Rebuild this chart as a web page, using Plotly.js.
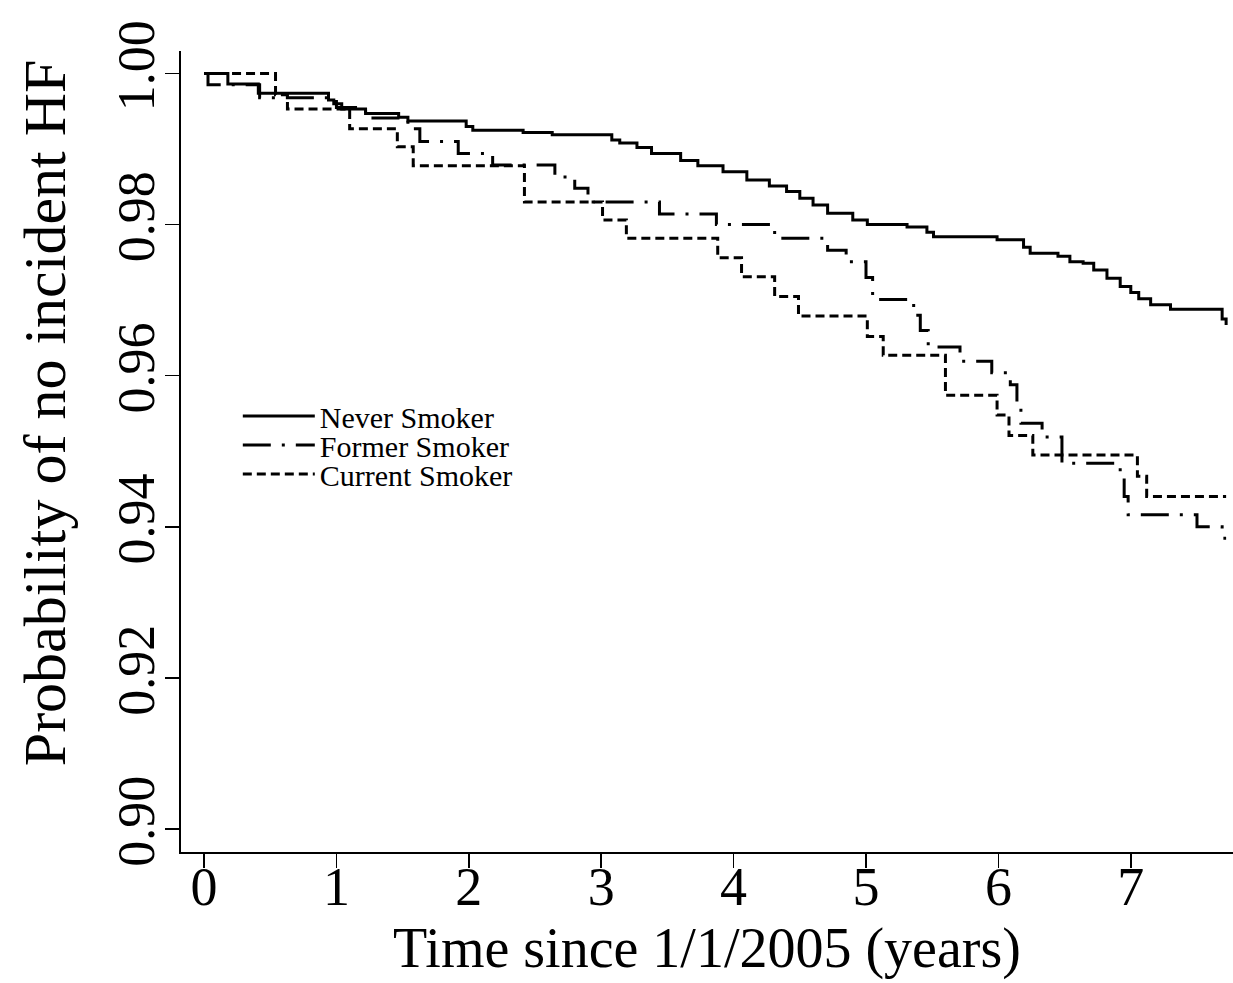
<!DOCTYPE html>
<html>
<head>
<meta charset="utf-8">
<script src="https://cdn.plot.ly/plotly-3.0.1.min.js"></script>
<style>html,body{margin:0;padding:0;background:#fff;}#chart{width:1233px;height:983px;}</style>
</head>
<body>
<div id="chart"></div>
<script>
// Kaplan-Meier style survival (probability of no incident HF) by smoking status
const seriesNames = ["Never Smoker", "Former Smoker", "Current Smoker"];

const neverT = [0, 0.18, 0.41, 0.94, 0.98, 1.04, 1.22, 1.47, 1.54, 1.98, 2.03, 2.41, 2.63, 3.08, 3.14, 3.27, 3.38, 3.60, 3.73, 3.92, 4.10, 4.27, 4.40, 4.50, 4.60, 4.71, 4.90, 5.01, 5.31, 5.46, 5.51, 5.99, 6.19, 6.24, 6.45, 6.54, 6.64, 6.72, 6.82, 6.92, 7.00, 7.06, 7.15, 7.30, 7.69, 7.72];
const neverS = [1.000, 0.9986, 0.9974, 0.9965, 0.9960, 0.9953, 0.9947, 0.9942, 0.9937, 0.9930, 0.9925, 0.9922, 0.9919, 0.9912, 0.9908, 0.9902, 0.9894, 0.9885, 0.9878, 0.9870, 0.9859, 0.9851, 0.9844, 0.9835, 0.9826, 0.9815, 0.9806, 0.9800, 0.9797, 0.9790, 0.9784, 0.9780, 0.9770, 0.9762, 0.9758, 0.9751, 0.9749, 0.9740, 0.9729, 0.9718, 0.9710, 0.9702, 0.9694, 0.9688, 0.9675, 0.9667];

const formerT = [0, 0.03, 0.42, 1.00, 1.22, 1.54, 1.63, 1.92, 2.18, 2.65, 2.80, 2.90, 3.44, 3.87, 4.31, 4.71, 4.85, 5.00, 5.05, 5.36, 5.41, 5.47, 5.71, 5.95, 6.09, 6.14, 6.17, 6.33, 6.48, 6.92, 6.95, 6.98, 7.50, 7.69, 7.72];
const formerS = [1.000, 0.9985, 0.9968, 0.9955, 0.9941, 0.9927, 0.9910, 0.9894, 0.9879, 0.9863, 0.9848, 0.9830, 0.9814, 0.9800, 0.9782, 0.9766, 0.9751, 0.9730, 0.9701, 0.9680, 0.9660, 0.9638, 0.9619, 0.9604, 0.9588, 0.9560, 0.9537, 0.9519, 0.9484, 0.9470, 0.9440, 0.9416, 0.9400, 0.9385, 0.9385];

const currentT = [0, 0.54, 0.63, 1.10, 1.46, 1.58, 2.42, 3.01, 3.19, 3.88, 4.06, 4.31, 4.49, 5.01, 5.13, 5.60, 5.99, 6.08, 6.26, 7.05, 7.12, 7.72];
const currentS = [1.000, 0.9972, 0.9953, 0.9927, 0.9903, 0.9878, 0.9830, 0.9806, 0.9782, 0.9756, 0.9731, 0.9705, 0.9679, 0.9652, 0.9627, 0.9574, 0.9548, 0.9521, 0.9495, 0.9467, 0.9440, 0.9440];

const xTicks = [0, 1, 2, 3, 4, 5, 6, 7];
const yTicks = [0.90, 0.92, 0.94, 0.96, 0.98, 1.00];
const yTickText = ["0.90", "0.92", "0.94", "0.96", "0.98", "1.00"];

const xTitle = "Time since 1/1/2005 (years)";
const yTitle = "Probability of no incident HF";

const FONT = "Liberation Serif, Times New Roman, serif";

const traces = [
  {x: neverT, y: neverS, name: seriesNames[0], mode: "lines", legend: "legend",
   line: {shape: "hv", color: "#000", width: 3, dash: "solid"}},
  {x: formerT, y: formerS, name: seriesNames[1], mode: "lines", legend: "legend2",
   line: {shape: "hv", color: "#000", width: 3, dash: "28px,11px,3px,11px"}},
  {x: currentT, y: currentS, name: seriesNames[2], mode: "lines", legend: "legend3",
   line: {shape: "hv", color: "#000", width: 3, dash: "9px,5px"}}
];

function legendAt(yc) {
  return {
    x: 0.054, y: yc, xanchor: "left", yanchor: "middle",
    bgcolor: "rgba(0,0,0,0)", borderwidth: 0,
    font: {family: FONT, size: 30, color: "#000"},
    itemwidth: 72, tracegroupgap: 0
  };
}

const layout = {
  width: 1233, height: 983,
  margin: {l: 181, r: 0, t: 51, b: 131, pad: 0},
  paper_bgcolor: "#fff", plot_bgcolor: "#fff",
  font: {family: FONT, color: "#000"},
  showlegend: true,
  legend: legendAt(0.5443),
  legend2: legendAt(0.5081),
  legend3: legendAt(0.4719),
  xaxis: {
    range: [-0.174, 7.772],
    tickvals: xTicks, ticktext: xTicks.map(String),
    showline: true, linecolor: "#000", linewidth: 2,
    ticks: "outside", ticklen: 14, tickwidth: 1.5, tickcolor: "#000",
    ticklabelstandoff: -28,
    showgrid: false, zeroline: false,
    tickfont: {family: FONT, size: 54, color: "#000"},
    title: {text: xTitle, font: {family: FONT, size: 56, color: "#000"}, standoff: 0},
    fixedrange: true
  },
  yaxis: {
    range: [0.89696, 1.00298],
    tickvals: yTicks, ticktext: yTickText,
    tickangle: -90,
    showline: true, linecolor: "#000", linewidth: 2,
    ticks: "outside", ticklen: 14, tickwidth: 1.5, tickcolor: "#000",
    ticklabelstandoff: -10,
    showgrid: false, zeroline: false,
    tickfont: {family: FONT, size: 52, color: "#000"},
    fixedrange: true
  },
  annotations: [
    {text: yTitle, xref: "paper", yref: "paper", x: -0.1293, y: 0.549,
     xanchor: "center", yanchor: "middle", textangle: -90, showarrow: false,
     font: {family: FONT, size: 60, color: "#000"}}
  ]
};

Plotly.newPlot("chart", traces, layout, {displayModeBar: false, staticPlot: true});
</script>
</body>
</html>
